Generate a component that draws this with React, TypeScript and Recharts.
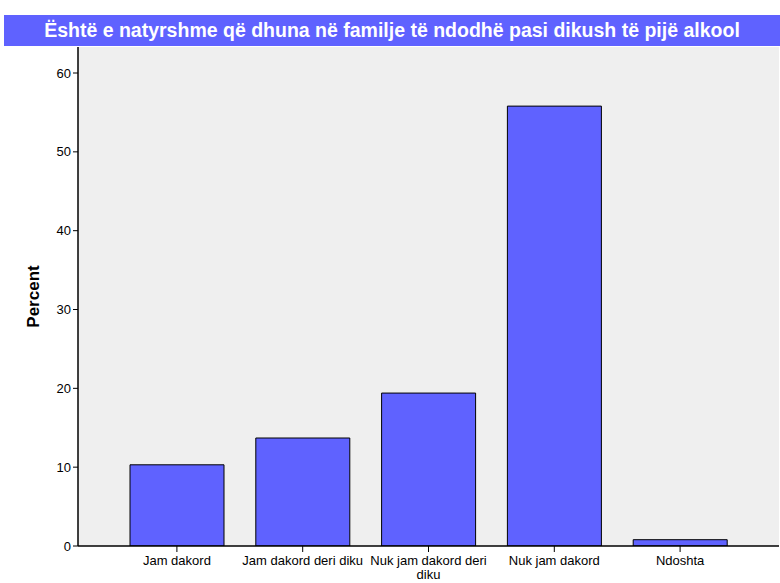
import { BarChart, Bar, XAxis, YAxis, CartesianGrid } from "recharts";

const categories = [
  "Jam dakord",
  "Jam dakord deri diku",
  "Nuk jam dakord deri diku",
  "Nuk jam dakord",
  "Ndoshta",
];
const percents = [10.3, 13.7, 19.4, 55.8, 0.8];
const yTicks = [0, 10, 20, 30, 40, 50, 60];
const title = "Është e natyrshme që dhuna në familje të ndodhë pasi dikush të pijë alkool";

const data = categories.map((name, i) => ({ name, value: percents[i] }));

const FONT = "'Liberation Sans', Arial, sans-serif";

let ctx: CanvasRenderingContext2D | null = null;
function wrap(label: string, maxW: number): string[] {
  if (!ctx) ctx = document.createElement("canvas").getContext("2d");
  if (!ctx) return [label];
  ctx.font = `13px ${FONT}`;
  const lines: string[] = [];
  let cur = "";
  for (const w of label.split(" ")) {
    const next = cur ? cur + " " + w : w;
    if (cur && ctx.measureText(next).width > maxW) {
      lines.push(cur);
      cur = w;
    } else cur = next;
  }
  if (cur) lines.push(cur);
  return lines;
}

function CatTick(props: any) {
  const { x, y, payload } = props;
  const lines = wrap(String(payload.value), 125);
  return (
    <g>
      <line x1={x} x2={x} y1={y - 8} y2={y - 2} stroke="#000" />
      {lines.map((l, i) => (
        <text key={i} x={x} y={y + 11 + i * 14} textAnchor="middle" fontSize={13} fontFamily={FONT} fill="#000">
          {l}
        </text>
      ))}
    </g>
  );
}

export default function App() {
  return (
    <div style={{ position: "absolute", left: 0, top: 0, width: 780, height: 583, background: "#fff" }}>
      <div
        style={{
          position: "absolute",
          left: 4,
          top: 15,
          width: 776,
          height: 31,
          background: "#5f62ff",
          color: "#fff",
          fontFamily: FONT,
          fontWeight: "bold",
          fontSize: 19.5,
          lineHeight: "31px",
          textAlign: "center",
        }}
      >
        {title}
      </div>
      <div style={{ position: "absolute", left: 0, top: 0 }}>
        <BarChart
          width={780}
          height={583}
          data={data}
          margin={{ top: 47, right: 1, bottom: 0, left: 0 }}
          barCategoryGap={16}
        >
          <CartesianGrid horizontal={false} vertical={false} fill="#efefef" />
          <XAxis
            dataKey="name"
            height={37}
            padding={{ left: 36, right: 36 }}
            tickLine={false}
            axisLine={{ stroke: "#000", strokeWidth: 1.5 }}
            tick={<CatTick />}
            interval={0}
          />
          <XAxis xAxisId="top" orientation="top" height={0} tick={false} axisLine={{ stroke: "#333" }} />
          <YAxis
            domain={[0, 63.3]}
            ticks={yTicks}
            width={78}
            allowDataOverflow
            tickSize={5}
            tickLine={{ stroke: "#000" }}
            axisLine={{ stroke: "#000", strokeWidth: 1.5 }}
            tick={{ fontSize: 13, fill: "#000", fontFamily: FONT }}
            label={{
              value: "Percent",
              angle: -90,
              position: "insideLeft",
              offset: 33,
              style: { fontSize: 17, fontWeight: "bold", fill: "#000", fontFamily: FONT, textAnchor: "middle" },
            }}
          />
          <YAxis yAxisId="right" orientation="right" width={0} tick={false} axisLine={{ stroke: "#333" }} />
          <Bar dataKey="value" fill="#5f62ff" stroke="#000" strokeWidth={1} isAnimationActive={false} />
        </BarChart>
      </div>
    </div>
  );
}
